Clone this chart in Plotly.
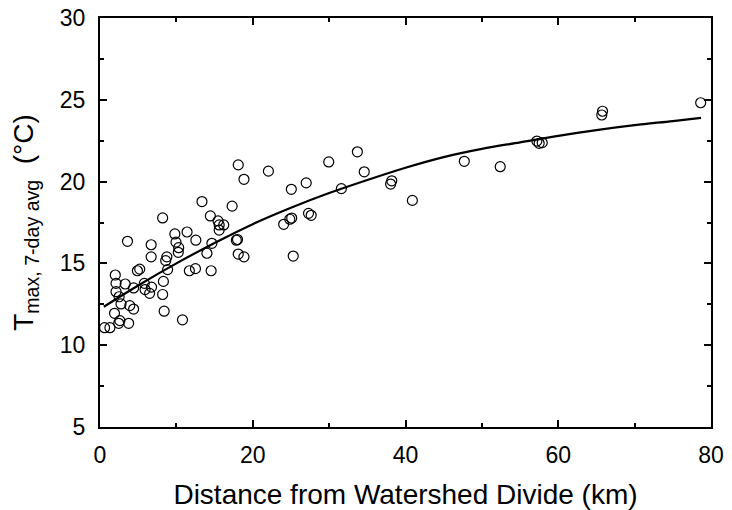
import plotly.graph_objects as go

# Observed data: distance (km) and 7-day avg max temperature (°C)
dist_km = [0.6, 1.3, 1.9, 2.45, 2.6, 3.75, 2.75, 3.9, 4.4, 2.5,
           2.0, 2.1, 2.1, 3.3, 4.4, 5.8, 5.9, 6.5, 6.75, 4.9,
           5.2, 8.3, 8.2, 8.4, 10.8, 3.6, 6.7, 9.8, 11.4, 12.55,
           9.95, 10.3, 10.25, 6.7, 8.75, 8.6, 14.0, 14.65, 17.85, 18.0,
           18.1, 18.85, 25.3, 8.85, 11.7, 12.5, 14.55, 8.2, 13.35, 14.45,
           15.45, 15.6, 16.2, 15.6, 17.3, 18.1, 18.85, 22.05, 25.05, 27.0,
           29.95, 33.7, 34.6, 31.6, 25.1, 24.85, 24.05, 27.3, 27.65, 38.2,
           38.05, 40.9, 47.7, 52.4, 57.2, 57.5, 57.9, 65.8, 65.7, 78.65]
tmax_c = [11.07, 11.07, 11.95, 11.34, 11.5, 11.34, 12.52, 12.42, 12.21, 12.96,
          14.29, 13.78, 13.27, 13.74, 13.5, 13.78, 13.4, 13.17, 13.55, 14.55,
          14.65, 13.9, 13.1, 12.08, 11.55, 16.35, 16.14, 16.8, 16.92, 16.42,
          16.3, 15.96, 15.68, 15.4, 15.4, 15.17, 15.62, 16.23, 16.42, 16.46,
          15.57, 15.4, 15.45, 14.62, 14.55, 14.68, 14.55, 17.78, 18.78, 17.9,
          17.6, 17.35, 17.35, 17.04, 18.5, 21.02, 20.14, 20.64, 19.53, 19.92,
          21.2, 21.82, 20.6, 19.57, 17.77, 17.7, 17.39, 18.06, 17.94, 20.05,
          19.85, 18.85, 21.24, 20.91, 22.48, 22.34, 22.38, 24.3, 24.07, 24.82]

# Fitted curve
fit_x = [0.5, 5, 10, 15, 20, 25, 30, 35, 40, 45, 50, 55, 60, 65, 70, 75, 78.7]
fit_y = [12.35, 13.65, 15.0, 16.25, 17.4, 18.4, 19.3, 20.1, 20.85, 21.5,
         22.0, 22.4, 22.8, 23.15, 23.45, 23.7, 23.9]

x_ticks = [0, 20, 40, 60, 80]
y_ticks = [5, 10, 15, 20, 25, 30]

FONT = "Liberation Sans, Arial, Helvetica, sans-serif"

fig = go.Figure()
fig.add_trace(go.Scatter(
    x=dist_km, y=tmax_c, mode="markers",
    marker=dict(symbol="circle-open", size=10, color="black", line=dict(width=1.2)),
    showlegend=False, cliponaxis=False))
fig.add_trace(go.Scatter(
    x=fit_x, y=fit_y, mode="lines",
    line=dict(color="black", width=2.2, shape="spline"),
    showlegend=False))

axis_common = dict(
    showline=True, linecolor="black", linewidth=2, mirror="ticks",
    ticks="inside", ticklen=7, tickwidth=2, tickcolor="black",
    showgrid=False, zeroline=False, automargin=False,
    ticklabeloverflow="allow",
    tickfont=dict(family=FONT, size=23, color="black"),
)

fig.update_xaxes(
    range=[0, 80], tickvals=x_ticks, ticktext=[str(v) for v in x_ticks],
    minor=dict(ticks="inside", ticklen=4, tickwidth=2, tickcolor="black", dtick=10, tick0=0),
    title=dict(text="Distance from Watershed Divide (km)",
               font=dict(family=FONT, size=28, color="black"), standoff=19),
    ticklabelstandoff=6,
    **axis_common)
fig.update_yaxes(
    range=[5, 30], tickvals=y_ticks, ticktext=[str(v) for v in y_ticks],
    minor=dict(ticks="inside", ticklen=4, tickwidth=2, tickcolor="black", dtick=2.5, tick0=5),
    title=dict(text="T<sub>max, 7-day avg</sub>  (°C)",
               font=dict(family=FONT, size=28, color="black"), standoff=18),
    ticklabelstandoff=8,
    **axis_common)

fig.update_layout(
    width=732, height=510,
    margin=dict(l=100, r=21, t=18, b=83),
    paper_bgcolor="white", plot_bgcolor="white",
    font=dict(family=FONT, color="black"),
    hovermode=False,
)

# remove the browser's default 8px page margin so the figure sits at (0, 0)
fig.write_html("out.html",
               config={"displayModeBar": False, "staticPlot": True},
               post_script="document.body.style.margin='0';document.body.style.overflow='hidden';")
